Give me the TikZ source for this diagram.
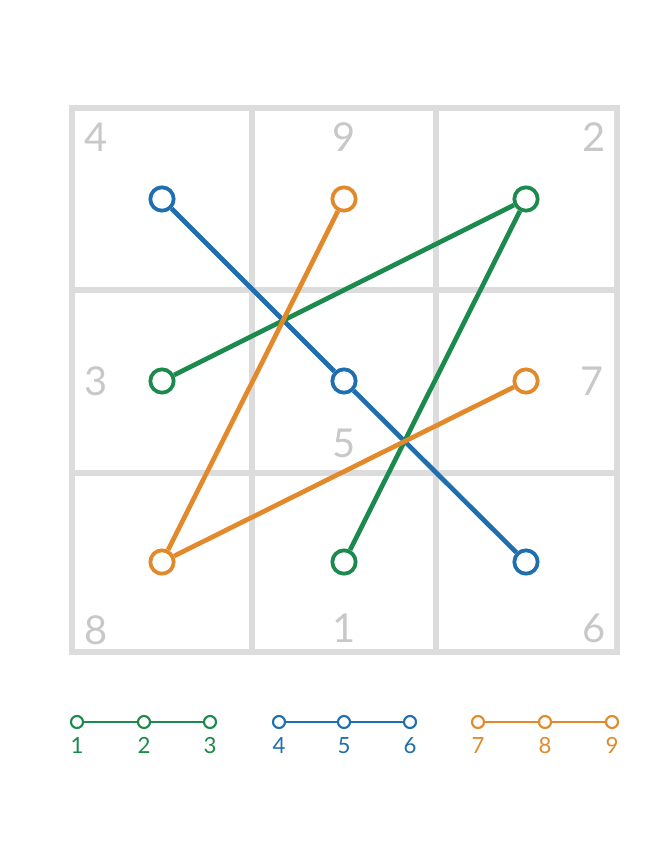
\documentclass[tikz,border=0pt]{standalone}
\usepackage{fontspec}
\setmainfont{Lato}
\usetikzlibrary{positioning}

\definecolor{lineblue}{HTML}{1F6EB0}
\definecolor{linegreen}{HTML}{1B8A4C}
\definecolor{lineorange}{HTML}{E2892B}
\definecolor{gridgray}{HTML}{DCDCDC}
\definecolor{digitgray}{HTML}{C8C8C8}

\tikzset{
  ring/.style={circle, draw=#1, line width=3.2pt, fill=white, minimum size=0.7cm, inner sep=0pt},
  link/.style={draw=#1, line width=4pt},
  dot/.style={circle, draw=#1, line width=1.8pt, fill=white, minimum size=0.36cm, inner sep=0pt},
  legline/.style={draw=#1, line width=2pt},
  digit/.style={text=digitgray, font=\fontsize{34}{34}\selectfont},
  legnum/.style={text=#1, font=\fontsize{19}{19}\selectfont}
}

\begin{document}
\begin{tikzpicture}[x=0.03cm, y=-0.03cm]
    \useasboundingbox (0,0) rectangle (662,857);
    % Tabla 3x3
    \draw[gridgray, line width=5.5pt] (72,108) rectangle (617,652);
    \foreach \x in {252,436} {
      \draw[gridgray, line width=5.5pt] (\x,108) -- (\x,652);
    }
    \foreach \y in {290,473} {
      \draw[gridgray, line width=5.5pt] (72,\y) -- (617,\y);
    }
    % Cifrele patratului magic
    \foreach \d/\x/\y in {4/96/137, 9/344/137, 2/594/137, 3/96/381, 5/344/443,
                          7/592/381, 8/96/630, 1/344/628, 6/594/628} {
      \node[digit] (d\d) at (\x,\y) {\d};
    }
    % Cercuri in centrele celulelor
    \foreach \n/\x/\y/\c in {4/162/199/lineblue, 5/344/381/lineblue, 6/526/562/lineblue,
                             3/162/381/linegreen, 2/526/199/linegreen, 1/344/562/linegreen,
                             9/344/199/lineorange, 8/162/562/lineorange, 7/526/381/lineorange} {
      \node[ring=\c] (n\n) at (\x,\y) {};
    }
    % Drumuri
    \draw[link=lineblue] (n4) -- (n5) -- (n6);
    \draw[link=linegreen] (n3) -- (n2) -- (n1);
    \draw[link=lineorange] (n9) -- (n8) -- (n7);
    % Legenda
    \foreach \n/\x/\c in {1/77/linegreen, 2/144/linegreen, 3/210/linegreen,
                          4/279/lineblue, 5/344/lineblue, 6/410/lineblue,
                          7/478/lineorange, 8/545/lineorange, 9/612/lineorange} {
      \node[dot=\c] (l\n) at (\x,722) {};
      \node[legnum=\c, below=0.12cm of l\n] (t\n) {\n};
    }
    \draw[legline=linegreen] (l1) -- (l2) -- (l3);
    \draw[legline=lineblue] (l4) -- (l5) -- (l6);
    \draw[legline=lineorange] (l7) -- (l8) -- (l9);
\end{tikzpicture}
\end{document}
